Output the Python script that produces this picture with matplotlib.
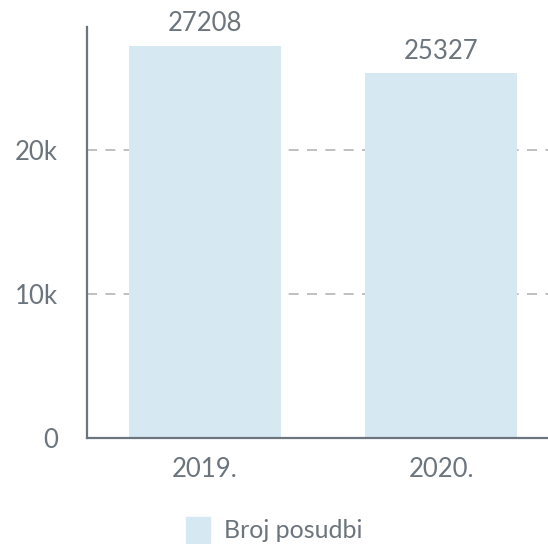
import matplotlib.pyplot as plt
import matplotlib.patches as mpatches

# data
years = ["2019.", "2020."]
loans = [27208, 25327]
y_ticks = [0, 10000, 20000]
y_tick_labels = ["0", "10k", "20k"]

bar_color = "#d6e9f3"
text_color = "#6c757d"
axis_color = "#6c757d"
grid_color = "#b5b5b5"

plt.rcParams['font.family'] = ['Lato', 'DejaVu Sans']

W, H = 548, 544
fig = plt.figure(figsize=(W / 100, H / 100), dpi=100)
# axes reaches past the right edge, like in the reference
ax = fig.add_axes([87 / W, 106 / H, 472 / W, 411 / H])

x = list(range(len(years)))
bars = ax.bar(x, loans, width=0.644, color=bar_color, zorder=2)

ax.set_xlim(-0.5, len(years) - 0.5)
ax.set_ylim(0, 411 / 14.4 * 1000)

ax.set_yticks(y_ticks)
ax.set_yticklabels(y_tick_labels)
ax.set_xticks(x)
ax.set_xticklabels(years)
ax.tick_params(axis="both", length=0, labelsize=18.5, colors=text_color)
ax.tick_params(axis="y", pad=21)
ax.tick_params(axis="x", pad=14)

for t in y_ticks[1:]:
    ax.axhline(t, color=grid_color, lw=1.2, ls=(0, (6, 5)), zorder=1)

for s in ["top", "right"]:
    ax.spines[s].set_visible(False)
for s in ["left", "bottom"]:
    ax.spines[s].set_color(axis_color)
    ax.spines[s].set_linewidth(1.6)

for xi, v in zip(x, loans):
    ax.annotate(str(v), (xi, v), xytext=(0, 7), textcoords="offset points",
                ha="center", va="bottom", fontsize=18.5, color=text_color)

handle = mpatches.Patch(color=bar_color, label="Broj posudbi")
fig.legend(handles=[handle], loc="center", bbox_to_anchor=(274 / W, 14 / H),
           frameon=False, fontsize=18, labelcolor=text_color,
           handlelength=0.95, handleheight=1.2, handletextpad=0.55)

fig.savefig("out.png", dpi=100)
